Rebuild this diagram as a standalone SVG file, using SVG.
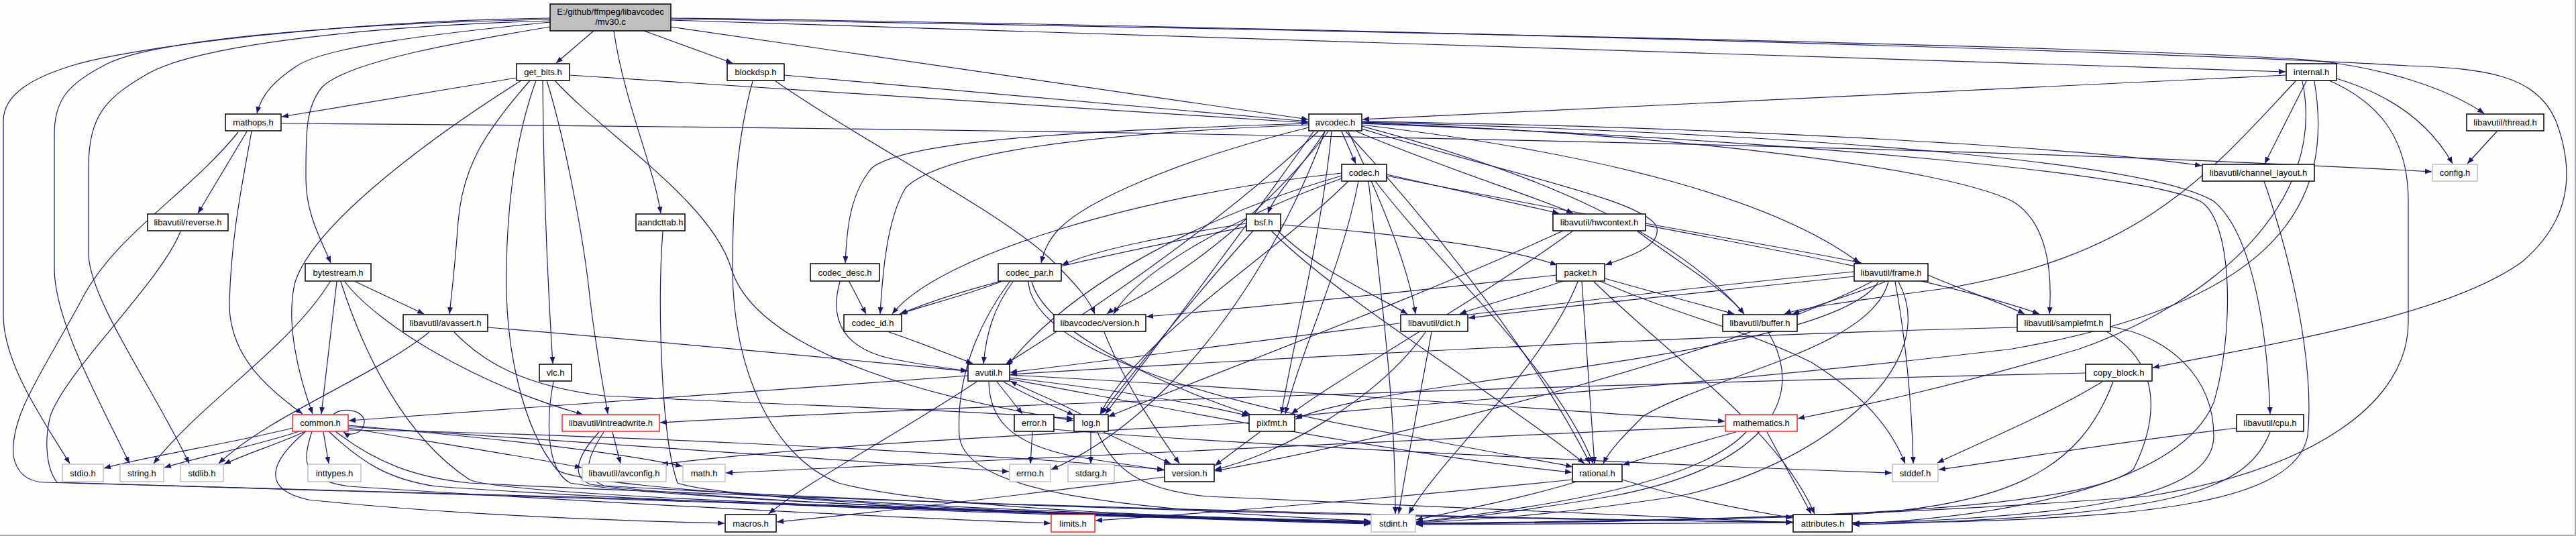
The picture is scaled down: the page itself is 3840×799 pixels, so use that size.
<svg xmlns="http://www.w3.org/2000/svg" width="3840" height="799" viewBox="0 0 3840 799">
<style>
.e{fill:none;stroke:#191970;stroke-width:1.2;marker-end:url(#ah)}
.n rect{fill:#ffffff;stroke:#000000;stroke-width:1.5}
.g rect{fill:#ffffff;stroke:#bfbfbf;stroke-width:1.5}
.r rect{fill:#ffffff;stroke:#ff2020;stroke-width:1.5}
.root rect{fill:#bfbfbf;stroke:#000000;stroke-width:1.5}
text{font-family:"Liberation Sans",Arial,sans-serif;font-size:13px;text-anchor:middle;fill:#000000}
</style>
<defs>
<marker id="ah" markerUnits="userSpaceOnUse" markerWidth="11" markerHeight="9" refX="10" refY="4" orient="auto"><path d="M0,0 L10,4 L0,8 z" fill="#191970"/></marker>
</defs>
<rect x="0" y="0" width="3840" height="799" fill="#fdfefd"/>
<line x1="0" y1="798" x2="3840" y2="798" stroke="#a8a8a8" stroke-width="2"/>
<line x1="3839" y1="0" x2="3839" y2="799" stroke="#a8a8a8" stroke-width="2"/>
<g id="edges">
<path class="e" d="M820,27 C500,32 200,70 110,97 C50,115 5,140 5,180 L5,470 C5,540 60,620 104,691"/>
<path class="e" d="M820,29 C500,35 230,60 160,95 C100,125 81,150 81,200 L81,400 C81,480 150,600 193,691"/>
<path class="e" d="M820,31 C520,40 290,70 220,110 C160,145 132,170 132,250 L132,380 C135,450 230,580 282,691"/>
<path class="e" d="M820,33 C650,50 480,70 440,100 C410,120 390,140 383,169"/>
<path class="e" d="M820,40 C700,60 520,90 480,130 C455,160 456,200 456,267 C456,320 480,360 493,392"/>
<path class="e" d="M885,46 L829,94"/>
<path class="e" d="M915,46 C930,150 975,250 985,318"/>
<path class="e" d="M960,46 L1092,94"/>
<path class="e" d="M1000,40 L1950,178"/>
<path class="e" d="M1000,30 L3407,107"/>
<path class="e" d="M1000,28 C2000,45 3200,70 3450,90 C3580,105 3660,140 3703,169"/>
<path class="e" d="M1000,27 C2000,40 3300,80 3590,98 C3700,102 3780,110 3810,180 C3840,260 3830,330 3760,390 C3650,470 3400,510 3209,548"/>
<path class="e" d="M770,116 L420,174"/>
<path class="e" d="M849,112 L1950,183"/>
<path class="e" d="M777,120 C650,200 470,330 440,420 C425,480 445,560 466,617"/>
<path class="e" d="M790,120 C720,200 690,250 683,330 C678,400 673,440 670,468"/>
<path class="e" d="M799,120 C770,200 756,300 755,400 C752,520 780,640 830,700 C860,730 1500,765 2043,777"/>
<path class="e" d="M809,120 C810,250 815,400 824,542"/>
<path class="e" d="M815,120 C840,200 870,350 880,450 C890,530 900,580 906,617"/>
<path class="e" d="M827,120 C900,200 1060,300 1090,400 C1120,500 1300,580 1600,627"/>
<path class="e" d="M1169,112 L1950,181"/>
<path class="e" d="M1156,121 C1300,220 1500,320 1570,390 C1610,430 1625,450 1632,468"/>
<path class="e" d="M1122,121 C1100,200 1092,300 1092,400 C1092,550 1150,680 1250,720 C1400,760 1800,772 2043,778"/>
<path class="e" d="M419,184 C1600,192 2900,215 3625,256"/>
<path class="e" d="M368,196 L295,318"/>
<path class="e" d="M375,196 C360,280 345,350 342,450 C340,530 400,580 451,617"/>
<path class="e" d="M355,197 C280,290 170,350 120,450 C60,560 15,620 20,680 C25,705 40,718 66,719 C700,735 1500,760 2043,779"/>
<path class="e" d="M269,345 C240,420 100,550 75,620 C65,660 70,700 85,719 C700,737 1500,762 2043,780"/>
<path class="e" d="M492,420 C430,520 300,600 229,691"/>
<path class="e" d="M502,420 L479,617"/>
<path class="e" d="M530,420 L632,468"/>
<path class="e" d="M514,420 C560,480 700,570 869,618"/>
<path class="e" d="M508,420 C540,520 600,650 700,715 C750,740 1500,765 2043,779"/>
<path class="e" d="M640,495 C560,560 400,620 326,691"/>
<path class="e" d="M727,488 C1000,510 1300,540 1442,553"/>
<path class="e" d="M677,495 C720,540 780,575 900,590 C1200,605 1450,612 1600,624"/>
<path class="e" d="M825,569 C815,620 812,700 850,720 C1000,745 1600,768 2043,779"/>
<path class="e" d="M988,345 C980,450 985,650 1010,720 C1100,750 1700,770 2043,780"/>
<path class="e" d="M913,644 L925,691"/>
<path class="e" d="M893,644 C860,680 850,710 880,722 C1100,750 1700,772 2043,781"/>
<path class="e" d="M900,644 C870,690 870,712 900,724 C1500,760 2300,775 2672,778"/>
<path class="e" d="M436,638 C350,660 220,680 155,698"/>
<path class="e" d="M446,643 C380,665 300,680 245,697"/>
<path class="e" d="M455,643 C420,660 370,675 334,692"/>
<path class="e" d="M482,644 L490,691"/>
<path class="e" d="M519,638 C650,660 780,680 867,697"/>
<path class="e" d="M519,634 C700,650 900,670 1017,695"/>
<path class="e" d="M519,641 C800,645 1400,670 1735,700"/>
<path class="e" d="M519,636 C900,660 1300,690 1504,703"/>
<path class="e" d="M465,643 C450,690 450,715 520,725 C900,750 1300,770 1566,780"/>
<path class="e" d="M456,643 C400,690 390,730 460,745 C700,770 950,777 1080,780"/>
<path class="e" d="M490,643 C540,690 580,715 650,725 C1000,750 1600,770 2043,779"/>
<path class="e" d="M500,643 C560,690 620,712 700,720 C1300,750 2200,772 2672,779"/>
<path class="e" d="M497,618 C510,605 545,612 543,630 C541,648 520,650 512,644"/>
<path class="e" d="M1443,560 C1100,585 700,615 520,627"/>
<path class="e" d="M1486,569 L1524,617"/>
<path class="e" d="M1496,569 C1530,590 1570,605 1601,619"/>
<path class="e" d="M1505,563 C1650,580 1780,600 1861,620"/>
<path class="e" d="M1505,559 C1900,580 2300,610 2571,628"/>
<path class="e" d="M1474,569 C1475,620 1500,660 1600,680 C1660,690 1700,695 1735,701"/>
<path class="e" d="M1456,569 C1350,640 1200,720 1146,766"/>
<path class="e" d="M1505,565 C1800,620 2100,680 2343,704"/>
<path class="e" d="M1539,644 L1536,691"/>
<path class="e" d="M1571,640 C1800,660 2400,690 2820,705"/>
<path class="e" d="M1626,644 L1626,691"/>
<path class="e" d="M1612,618 C1580,600 1540,585 1506,568"/>
<path class="e" d="M1645,644 C1680,660 1720,680 1745,691"/>
<path class="e" d="M1636,644 C1660,700 1700,730 1800,740 C2200,760 2500,772 2672,779"/>
<path class="e" d="M1878,644 C1850,665 1830,680 1811,694"/>
<path class="e" d="M1862,630 C1500,650 1200,665 986,692"/>
<path class="e" d="M2572,635 C2000,660 1400,690 1082,705"/>
<path class="e" d="M2588,644 C2530,660 2460,680 2419,693"/>
<path class="e" d="M2634,644 L2700,766"/>
<path class="e" d="M2603,644 C2560,690 2450,740 2111,778"/>
<path class="e" d="M2350,718 C2280,740 2180,760 2111,775"/>
<path class="e" d="M2418,715 C2500,740 2600,760 2672,772"/>
<path class="e" d="M2344,715 C2100,740 1800,765 1633,776"/>
<path class="e" d="M1736,711 C1500,740 1300,765 1158,778"/>
<path class="e" d="M1646,495 C1680,580 1730,650 1758,691"/>
<path class="e" d="M1325,495 C1370,510 1420,530 1450,542"/>
<path class="e" d="M1266,420 L1291,468"/>
<path class="e" d="M1252,420 C1235,480 1260,520 1330,535 C1380,545 1420,550 1442,553"/>
<path class="e" d="M1492,420 C1440,440 1380,455 1341,468"/>
<path class="e" d="M1510,420 C1480,460 1470,500 1466,542"/>
<path class="e" d="M1505,420 C1460,480 1425,560 1430,650 C1440,740 1700,760 2043,777"/>
<path class="e" d="M1533,420 C1540,520 1800,600 2100,650 C2250,680 2320,690 2344,696"/>
<path class="e" d="M1538,420 C1560,500 1750,580 1864,618"/>
<path class="e" d="M1858,333 C1750,350 1640,370 1583,395"/>
<path class="e" d="M1858,338 C1700,370 1450,420 1343,468"/>
<path class="e" d="M1909,335 C2100,350 2250,370 2321,395"/>
<path class="e" d="M1905,344 C1960,400 2050,440 2098,468"/>
<path class="e" d="M1868,344 C1800,420 1700,540 1642,617"/>
<path class="e" d="M1895,344 C2000,450 2250,600 2362,691"/>
<path class="e" d="M2385,419 C2500,470 2600,490 2700,540 C2780,590 2820,640 2840,691"/>
<path class="e" d="M2352,420 C2300,550 2150,680 2100,766"/>
<path class="e" d="M2376,420 C2500,540 2650,640 2705,766"/>
<path class="e" d="M2392,415 C2480,440 2540,455 2585,468"/>
<path class="e" d="M2330,419 C2270,440 2210,455 2176,468"/>
<path class="e" d="M2358,420 C2365,520 2372,620 2377,691"/>
<path class="e" d="M2320,410 C2050,440 1850,460 1709,472"/>
<path class="e" d="M2810,420 C2760,440 2710,455 2672,468"/>
<path class="e" d="M2764,412 C2500,440 2300,460 2189,474"/>
<path class="e" d="M2764,405 C2300,450 1800,520 1506,555"/>
<path class="e" d="M2800,420 C2750,500 2400,540 2200,570 C2050,590 1960,610 1931,625"/>
<path class="e" d="M2874,410 C2920,430 2980,450 3018,468"/>
<path class="e" d="M2815,420 C2790,520 2550,560 2450,620 C2420,650 2400,670 2390,691"/>
<path class="e" d="M2825,420 C2840,500 2850,600 2852,691"/>
<path class="e" d="M2830,420 C2900,550 2700,700 2500,740 C2300,770 2200,775 2111,779"/>
<path class="e" d="M2790,420 C2600,520 2100,650 1811,702"/>
<path class="e" d="M3007,488 C2500,500 1800,540 1506,558"/>
<path class="e" d="M3146,487 C3230,500 3300,560 3300,650 C3300,730 3150,770 2762,780"/>
<path class="e" d="M3140,494 C3220,540 3220,620 3180,700 C3100,760 2700,775 2111,780"/>
<path class="e" d="M3109,556 C2500,570 1500,600 984,630"/>
<path class="e" d="M3134,569 C3050,620 2950,660 2888,690"/>
<path class="e" d="M3150,569 C3100,700 3000,760 2700,770 C2400,778 2200,780 2111,781"/>
<path class="e" d="M3334,638 C3150,660 3000,685 2890,700"/>
<path class="e" d="M3384,644 C3350,730 3250,770 2762,782"/>
<path class="e" d="M3408,112 L2031,178"/>
<path class="e" d="M3438,121 L3376,244"/>
<path class="e" d="M3483,117 C3560,140 3620,180 3656,244"/>
<path class="e" d="M3422,121 C3300,250 3200,380 2900,430 C2750,450 2680,460 2660,468"/>
<path class="e" d="M3432,121 C3470,300 3300,450 3100,520 C2900,580 2750,610 2680,624"/>
<path class="e" d="M3450,121 C3480,300 3400,450 3000,520 C2500,580 2100,600 1931,621"/>
<path class="e" d="M3472,120 C3540,150 3590,200 3590,300 L3590,480 C3590,600 3450,700 3200,740 C2800,770 2400,780 2111,781"/>
<path class="e" d="M3722,196 L3678,244"/>
<path class="e" d="M3375,270 C3420,400 3450,550 3440,650 C3420,750 3200,770 2900,778 C2500,782 2200,782 2111,782"/>
<path class="e" d="M2000,196 L2021,244"/>
<path class="e" d="M2022,196 C2150,250 2280,290 2345,318"/>
<path class="e" d="M2030,192 C2250,260 2460,300 2470,340 C2475,370 2420,385 2393,395"/>
<path class="e" d="M2010,196 C2060,300 2100,400 2110,468"/>
<path class="e" d="M2030,188 C2300,260 2500,350 2600,468"/>
<path class="e" d="M2030,186 C2400,230 2650,300 2772,392"/>
<path class="e" d="M2030,183 C2500,200 2900,250 3000,300 C3050,330 3060,400 3055,468"/>
<path class="e" d="M2030,182 C2700,200 3200,240 3300,300 C3360,350 3380,500 3384,617"/>
<path class="e" d="M2030,181 C2600,190 3100,220 3282,247"/>
<path class="e" d="M2030,184 C2700,210 3200,260 3280,300 C3330,330 3330,500 3300,600 C3250,720 3000,770 2762,781"/>
<path class="e" d="M1965,196 C1800,350 1600,480 1500,542"/>
<path class="e" d="M1958,196 C1850,350 1720,520 1648,617"/>
<path class="e" d="M1985,196 C1970,350 1930,500 1910,617"/>
<path class="e" d="M2006,196 C2150,350 2300,550 2370,691"/>
<path class="e" d="M1975,196 C1900,400 1750,620 1567,700"/>
<path class="e" d="M1975,196 C1940,250 1900,290 1890,318"/>
<path class="e" d="M1951,184 C1600,195 1350,210 1300,250 C1265,290 1262,350 1260,392"/>
<path class="e" d="M1951,186 C1600,200 1400,230 1350,280 C1320,330 1315,420 1312,468"/>
<path class="e" d="M1951,190 C1750,240 1620,300 1580,340 C1560,360 1555,380 1552,392"/>
<path class="e" d="M1980,196 C1900,300 1800,380 1720,430 C1690,450 1660,460 1650,468"/>
<path class="e" d="M2040,270 C2060,450 2080,600 2080,766"/>
<path class="e" d="M2000,262 C1800,320 1600,420 1500,547"/>
<path class="e" d="M2067,260 C2180,285 2270,305 2324,318"/>
<path class="e" d="M2010,270 C1900,380 1700,500 1640,617"/>
<path class="e" d="M2025,270 C2000,400 1940,520 1916,617"/>
<path class="e" d="M2050,270 C2150,400 2320,550 2375,691"/>
<path class="e" d="M2067,262 C2400,330 2850,400 3040,468"/>
<path class="e" d="M2000,258 C1700,290 1400,380 1330,468"/>
<path class="e" d="M2000,266 C1850,320 1700,400 1660,468"/>
<path class="e" d="M2440,344 C2500,390 2570,430 2600,468"/>
<path class="e" d="M2453,333 C2600,360 2720,380 2775,392"/>
<path class="e" d="M2330,344 C2100,450 1800,560 1652,621"/>
<path class="e" d="M2345,344 C2200,450 2000,560 1925,617"/>
<path class="e" d="M2134,495 C2115,600 2095,700 2085,766"/>
<path class="e" d="M2125,495 C2050,600 1900,680 1811,700"/>
<path class="e" d="M2635,494 C2700,600 2620,700 2400,740 C2250,765 2160,775 2111,778"/>
</g>
<g id="node-root" class="root"><rect x="820" y="6" width="180" height="40"/><text x="910" y="22">E:/github/ffmpeg/libavcodec</text><text x="910" y="37">/mv30.c</text></g>
<g id="node-get_bits" class="n"><rect x="770" y="95" width="79" height="25"/><text x="809.5" y="112">get_bits.h</text></g>
<g id="node-blockdsp" class="n"><rect x="1084" y="95" width="85" height="25"/><text x="1126.5" y="112">blockdsp.h</text></g>
<g id="node-internal" class="n"><rect x="3408" y="95" width="75" height="25"/><text x="3445.5" y="112">internal.h</text></g>
<g id="node-mathops" class="n"><rect x="336" y="170" width="83" height="25"/><text x="377.5" y="187">mathops.h</text></g>
<g id="node-avcodec" class="n"><rect x="1951" y="170" width="79" height="25"/><text x="1990.5" y="187">avcodec.h</text></g>
<g id="node-thread" class="n"><rect x="3677" y="170" width="115" height="25"/><text x="3734.5" y="187">libavutil/thread.h</text></g>
<g id="node-codec" class="n"><rect x="2000" y="245" width="67" height="25"/><text x="2033.5" y="262">codec.h</text></g>
<g id="node-channel_layout" class="n"><rect x="3283" y="245" width="167" height="25"/><text x="3366.5" y="262">libavutil/channel_layout.h</text></g>
<g id="node-config" class="g"><rect x="3626" y="245" width="67" height="25"/><text x="3659.5" y="262">config.h</text></g>
<g id="node-reverse" class="n"><rect x="220" y="319" width="120" height="25"/><text x="280" y="336">libavutil/reverse.h</text></g>
<g id="node-aandcttab" class="n"><rect x="948" y="319" width="73" height="25"/><text x="984.5" y="336">aandcttab.h</text></g>
<g id="node-bsf" class="n"><rect x="1858" y="319" width="51" height="25"/><text x="1883.5" y="336">bsf.h</text></g>
<g id="node-hwcontext" class="n"><rect x="2315" y="319" width="138" height="25"/><text x="2384" y="336">libavutil/hwcontext.h</text></g>
<g id="node-bytestream" class="n"><rect x="455" y="393" width="98" height="26"/><text x="504" y="410.5">bytestream.h</text></g>
<g id="node-codec_desc" class="n"><rect x="1208" y="393" width="103" height="26"/><text x="1259.5" y="410.5">codec_desc.h</text></g>
<g id="node-codec_par" class="n"><rect x="1488" y="393" width="94" height="26"/><text x="1535" y="410.5">codec_par.h</text></g>
<g id="node-packet" class="n"><rect x="2320" y="393" width="72" height="26"/><text x="2356" y="410.5">packet.h</text></g>
<g id="node-frame" class="n"><rect x="2764" y="393" width="110" height="26"/><text x="2819" y="410.5">libavutil/frame.h</text></g>
<g id="node-avassert" class="n"><rect x="601" y="469" width="126" height="25"/><text x="664" y="486">libavutil/avassert.h</text></g>
<g id="node-codec_id" class="n"><rect x="1258" y="469" width="86" height="25"/><text x="1301" y="486">codec_id.h</text></g>
<g id="node-lavc_version" class="n"><rect x="1571" y="469" width="137" height="25"/><text x="1639.5" y="486">libavcodec/version.h</text></g>
<g id="node-dict" class="n"><rect x="2088" y="469" width="100" height="25"/><text x="2138" y="486">libavutil/dict.h</text></g>
<g id="node-buffer" class="n"><rect x="2568" y="469" width="111" height="25"/><text x="2623.5" y="486">libavutil/buffer.h</text></g>
<g id="node-samplefmt" class="n"><rect x="3007" y="469" width="139" height="25"/><text x="3076.5" y="486">libavutil/samplefmt.h</text></g>
<g id="node-vlc" class="n"><rect x="804" y="543" width="48" height="25"/><text x="828" y="560">vlc.h</text></g>
<g id="node-avutil" class="n"><rect x="1443" y="543" width="62" height="25"/><text x="1474" y="560">avutil.h</text></g>
<g id="node-copy_block" class="n"><rect x="3109" y="543" width="99" height="25"/><text x="3158.5" y="560">copy_block.h</text></g>
<g id="node-common" class="r"><rect x="436" y="618" width="83" height="25"/><text x="477.5" y="635">common.h</text></g>
<g id="node-intreadwrite" class="r"><rect x="838" y="618" width="145" height="25"/><text x="910.5" y="635">libavutil/intreadwrite.h</text></g>
<g id="node-error" class="n"><rect x="1512" y="618" width="59" height="25"/><text x="1541.5" y="635">error.h</text></g>
<g id="node-log" class="n"><rect x="1601" y="618" width="51" height="25"/><text x="1626.5" y="635">log.h</text></g>
<g id="node-pixfmt" class="n"><rect x="1862" y="618" width="68" height="25"/><text x="1896" y="635">pixfmt.h</text></g>
<g id="node-mathematics" class="r"><rect x="2572" y="618" width="107" height="25"/><text x="2625.5" y="635">mathematics.h</text></g>
<g id="node-cpu" class="n"><rect x="3334" y="618" width="100" height="25"/><text x="3384" y="635">libavutil/cpu.h</text></g>
<g id="node-stdio" class="g"><rect x="93" y="692" width="61" height="26"/><text x="123.5" y="709.5">stdio.h</text></g>
<g id="node-string" class="g"><rect x="179" y="692" width="65" height="26"/><text x="211.5" y="709.5">string.h</text></g>
<g id="node-stdlib" class="g"><rect x="269" y="692" width="64" height="26"/><text x="301" y="709.5">stdlib.h</text></g>
<g id="node-inttypes" class="g"><rect x="459" y="692" width="79" height="26"/><text x="498.5" y="709.5">inttypes.h</text></g>
<g id="node-avconfig" class="g"><rect x="868" y="692" width="125" height="26"/><text x="930.5" y="709.5">libavutil/avconfig.h</text></g>
<g id="node-math" class="g"><rect x="1018" y="692" width="63" height="26"/><text x="1049.5" y="709.5">math.h</text></g>
<g id="node-errno" class="g"><rect x="1505" y="692" width="61" height="26"/><text x="1535.5" y="709.5">errno.h</text></g>
<g id="node-stdarg" class="g"><rect x="1592" y="692" width="69" height="26"/><text x="1626.5" y="709.5">stdarg.h</text></g>
<g id="node-version" class="n"><rect x="1736" y="692" width="74" height="26"/><text x="1773" y="709.5">version.h</text></g>
<g id="node-rational" class="n"><rect x="2344" y="692" width="74" height="26"/><text x="2381" y="709.5">rational.h</text></g>
<g id="node-stddef" class="g"><rect x="2821" y="692" width="68" height="26"/><text x="2855" y="709.5">stddef.h</text></g>
<g id="node-macros" class="n"><rect x="1081" y="767" width="76" height="26"/><text x="1119" y="784.5">macros.h</text></g>
<g id="node-limits" class="r"><rect x="1567" y="767" width="65" height="26"/><text x="1599.5" y="784.5">limits.h</text></g>
<g id="node-stdint" class="g"><rect x="2044" y="767" width="66" height="26"/><text x="2077" y="784.5">stdint.h</text></g>
<g id="node-attributes" class="n"><rect x="2673" y="767" width="88" height="26"/><text x="2717" y="784.5">attributes.h</text></g>
</svg>
